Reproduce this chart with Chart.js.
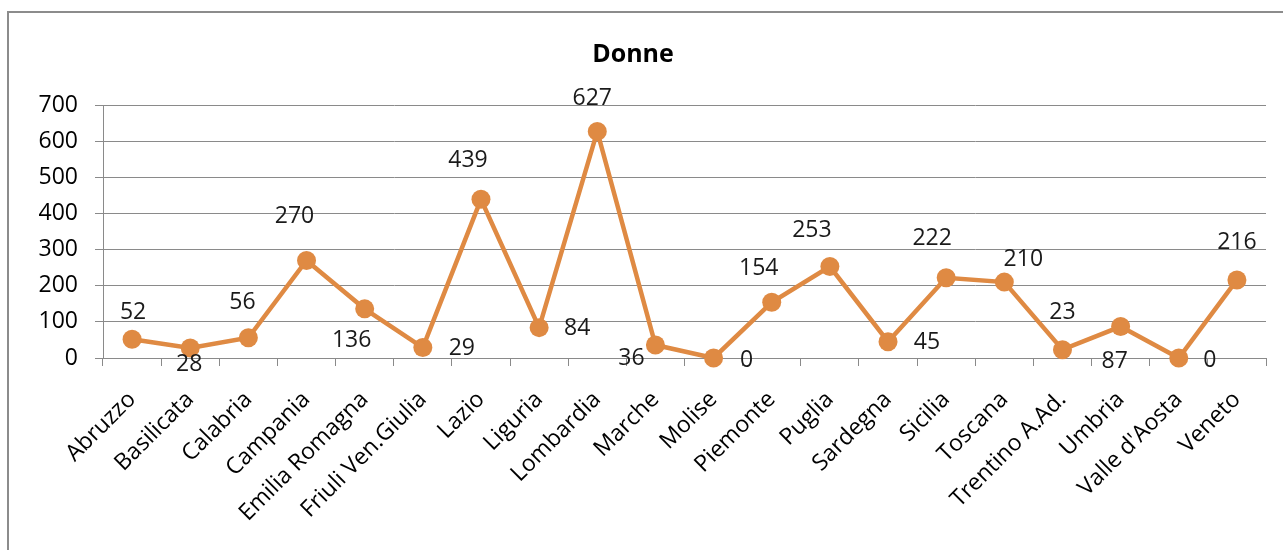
<!DOCTYPE html>
<html>
<head>
<meta charset="utf-8">
<script src="https://cdn.jsdelivr.net/npm/chart.js@4"></script>
<style>
    html, body { margin: 0; padding: 0; overflow: hidden; background: #fff; }
    #wrap { position: absolute; left: 0; top: 0; width: 1304px; height: 550px; }
    #frame {
        position: absolute; left: 7px; top: 11px; width: 1400px; height: 700px;
        border: 2px solid #8c8c8c; pointer-events: none;
    }
</style>
</head>
<body>
<div id="wrap"><canvas id="chart"></canvas></div>
<div id="frame"></div>
<script>
// === Data ===
var regions = ['Abruzzo', 'Basilicata', 'Calabria', 'Campania', 'Emilia Romagna',
    'Friuli Ven.Giulia', 'Lazio', 'Liguria', 'Lombardia', 'Marche', 'Molise',
    'Piemonte', 'Puglia', 'Sardegna', 'Sicilia', 'Toscana', 'Trentino A.Ad.',
    'Umbria', "Valle d'Aosta", 'Veneto'];
var donne = [52, 28, 56, 270, 136, 29, 439, 84, 627, 36, 0, 154, 253, 45, 222, 210, 23, 87, 0, 216];
var yTicks = [0, 100, 200, 300, 400, 500, 600, 700];

// label nudges (dx, dy) from each marker, as placed in the original sheet
var labelNudge = [
    [1, -27], [-1, 17], [-6, -35], [-12, -44], [-13, 32], [39, 1], [-13, -39],
    [38, 1], [-5, -33], [-24, 13], [33, 2], [-13, -34], [-18, -36], [39, 1],
    [-14, -39], [19, -23], [0, -37], [-6, 35], [31, 2], [0, -37]
];

var ORANGE = '#df8a43';
var GRID = '#8a8a8a';
var FONT = "'Open Sans', sans-serif";

// draws the value next to every point
var valueLabels = {
    id: 'valueLabels',
    afterDatasetsDraw: function(chart) {
        var ctx = chart.ctx;
        var meta = chart.getDatasetMeta(0);
        ctx.save();
        ctx.font = '23px ' + FONT;
        ctx.fillStyle = '#1a1a1a';
        ctx.textAlign = 'center';
        ctx.textBaseline = 'middle';
        meta.data.forEach(function(pt, i) {
            var n = labelNudge[i] || [0, -30];
            ctx.fillText(String(donne[i]), pt.x + n[0], pt.y + n[1]);
        });
        ctx.restore();
    }
};

var ctx = document.getElementById('chart').getContext('2d');
new Chart(ctx, {
    type: 'line',
    data: {
        labels: regions,
        datasets: [{
            label: 'Donne',
            data: donne,
            borderColor: ORANGE,
            backgroundColor: ORANGE,
            borderWidth: 4.5,
            pointRadius: 9.5,
            pointHoverRadius: 9.5,
            pointBorderWidth: 0,
            pointBackgroundColor: ORANGE,
            tension: 0,
            clip: false
        }]
    },
    options: {
        responsive: true,
        maintainAspectRatio: false,
        animation: false,
        events: [],
        layout: { padding: { left: 0, right: 38, top: 0, bottom: 0 } },
        plugins: {
            legend: { display: false },
            tooltip: { enabled: false },
            title: {
                display: true,
                text: 'Donne',
                color: '#000',
                font: { family: FONT, size: 25, weight: 'bold', lineHeight: 1.2 },
                padding: { top: 40, bottom: 35 }
            }
        },
        scales: {
            x: {
                offset: true,
                grid: {
                    display: true,
                    offset: true,
                    drawOnChartArea: false,
                    drawTicks: true,
                    tickLength: 8,
                    color: GRID
                },
                border: { display: true, color: GRID },
                ticks: {
                    autoSkip: false,
                    minRotation: 45,
                    maxRotation: 45,
                    padding: 20,
                    color: '#000',
                    font: { family: FONT, size: 23 }
                },
                afterFit: function(scale) { scale.height = 192; }
            },
            y: {
                min: 0,
                max: 700,
                afterBuildTicks: function(scale) {
                    scale.ticks = yTicks.map(function(v) { return { value: v }; });
                },
                grid: { color: GRID, tickLength: 8, drawTicks: true },
                border: { display: true, color: GRID },
                ticks: {
                    padding: 17,
                    color: '#000',
                    font: { family: FONT, size: 23 }
                },
                afterFit: function(scale) { scale.width = 103; }
            }
        }
    },
    plugins: [valueLabels]
});
</script>
</body>
</html>
